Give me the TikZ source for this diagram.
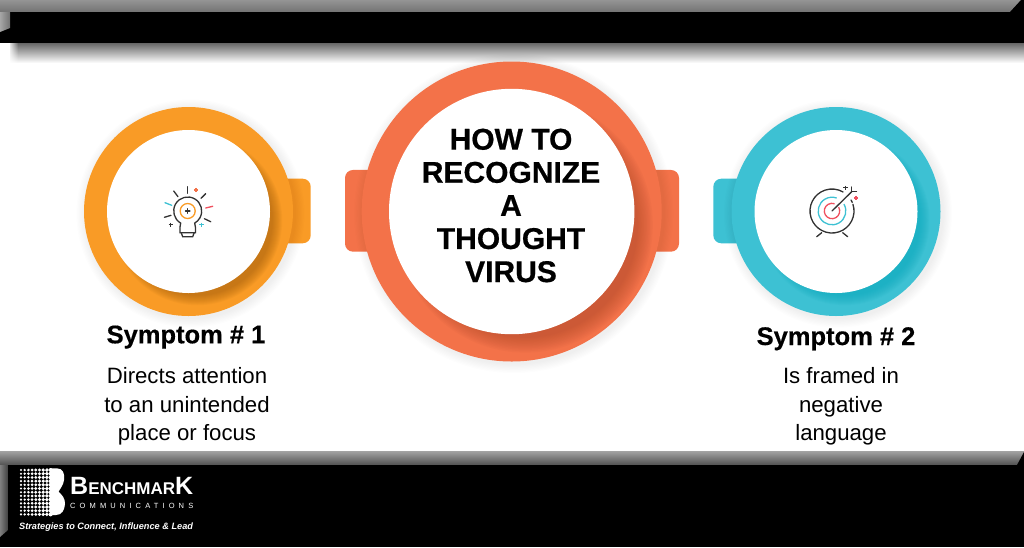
\documentclass[tikz,border=0pt]{standalone}
\usepackage{fontspec}
\setmainfont{Liberation Sans}
\usetikzlibrary{fadings}
\definecolor{ringorange}{RGB}{249,155,38}
\definecolor{ringcoral}{RGB}{243,114,73}
\definecolor{ringteal}{RGB}{61,193,211}
\definecolor{shadeorange}{RGB}{150,85,10}
\definecolor{shadecoral}{RGB}{170,70,40}
\definecolor{shadeteal}{RGB}{0,165,185}
\definecolor{iconblack}{RGB}{50,50,50}
\definecolor{iconred}{RGB}{240,80,95}
\tikzset{
  disc/.style={circle, inner sep=0pt, minimum size=#1},
  tabbox/.style={rectangle, rounded corners=8pt, inner sep=0pt},
  iconline/.style={line width=1.3pt, line cap=round, iconblack},
  iconcross/.style={line width=1.1pt},
  heading/.style={font=\bfseries\fontsize{25.5}{30}\selectfont\addfontfeatures{FakeBold=0.4}},
  bodytext/.style={align=center, font=\fontsize{22.2}{28.4}\selectfont},
}
\begin{document}
\begin{tikzpicture}[x=1pt,y=-1pt]
  \useasboundingbox (0,0) rectangle (1024,547);
  \fill[white] (0,0) rectangle (1024,547);

  % Bands
  \shade[top color=black!42, middle color=black!32, bottom color=black!55] (0,0) rectangle (1024,12);
  \fill[black] (0,12) rectangle (1024,43);
  \fill[black] (1010,12) -- (1021,0) -- (1024,0) -- (1024,12) -- cycle;
  \shade[left color=black!35, right color=black!55] (0,12) -- (10,12) -- (10,28) -- (0,32) -- cycle;
  \shade[top color=black!60, middle color=black!48, bottom color=white] (10,43) rectangle (1024,63);
  \fill[white, path fading=east] (8,43) rectangle (18,64);
  \shade[top color=black!36, bottom color=black!68] (0,451) rectangle (1024,465);
  \fill[black] (0,465) rectangle (1024,547);
  \fill[black] (1017,465) -- (1024,452) -- (1024,465) -- cycle;
  \shade[left color=black!50, right color=black!75] (0,465) -- (8,465) -- (8,530) -- (0,537) -- cycle;

  % Rings
  \node[tabbox, fill=ringorange, minimum width=36pt, minimum height=64.6pt] (tableft) at (292.7,211) {};
  \node[tabbox, fill=ringcoral, minimum width=40pt, minimum height=81.7pt] (tabcentera) at (365,210.8) {};
  \node[tabbox, fill=ringcoral, minimum width=40pt, minimum height=81.7pt] (tabcenterb) at (659,210.8) {};
  \node[tabbox, fill=ringteal, minimum width=36pt, minimum height=64.6pt] (tabright) at (731.3,211) {};

  \foreach \ringname/\cx/\rout/\rin/\ringcol/\shadecol in {
      left/188.5/104.5/81.5/ringorange/shadeorange,
      center/511.7/150/122.7/ringcoral/shadecoral,
      right/836/104.5/81.5/ringteal/shadeteal} {
    \foreach \i in {1,...,8}
      \fill[black, opacity=0.008] (\cx+2,213.5) circle ({\rout+\i*1.2});
    \node[disc=2*\rout*1pt, fill=\ringcol] (\ringname outer) at (\cx,211.5) {};
    \begin{scope}
      \clip (\cx,211.5) circle (\rout);
      \foreach \i in {0,...,10}
        \fill[\shadecol, opacity=0.055] (\cx+\rin*0.11,211.5+\rin*0.11) circle ({\rin*(1.04-0.012*\i)});
    \end{scope}
    \node[disc=2*\rin*1pt, fill=white] (\ringname inner) at (\cx,211.5) {};
  }

  % Texts
  \node[align=center, font=\bfseries\fontsize{30}{33.1}\selectfont\addfontfeatures{FakeBold=0.6}] (title) at (511,205.5) {HOW TO\\RECOGNIZE\\A\\THOUGHT\\VIRUS};
  \node[heading, anchor=base] (symptoma) at (186,343.3) {Symptom \# 1};
  \node[heading, anchor=base] (symptomb) at (836,345) {Symptom \# 2};
  \node[bodytext] (bodya) at (187,406.5) {Directs attention\\to an unintended\\place or focus};
  \node[bodytext] (bodyb) at (841,406.5) {Is framed in\\negative\\language};

  % Lightbulb
  \begin{scope}[shift={(187.7,211)}]
    \draw[iconline] (-7.7,21.7) -- (-7.7,16) -- (-7,12.1) arc[start angle=120, end angle=420, radius=14] -- (7.7,16) -- (7.7,21.7) -- cycle;
    \draw[iconline] (-6.5,21.7) -- (-5,25.7) -- (5,25.7) -- (6.5,21.7);
    \draw[ringorange, line width=1.3pt] (0,0) circle (7.5);
    \draw[iconline] (0,-2.2) -- (0,2.2) (-2.2,0) -- (2.2,0);
    \draw[iconline] (0,-24.3) -- (0,-17.7);
    \draw[iconline] (-14,-20) -- (-9.7,-14.3);
    \draw[iconline] (18,-17.3) -- (13.3,-12.7);
    \draw[iconline] (-23.3,6.3) -- (-16.7,4.3);
    \draw[iconline] (16.7,7.7) -- (23,10.7);
    \draw[iconline, ringteal] (-22.7,-8.3) -- (-16,-5.7);
    \draw[iconline, iconred] (18,-3) -- (25,-4.7);
    \draw[iconcross, ringcoral] (8.3,-23.2) -- (8.3,-18.8) (6.1,-21) -- (10.5,-21);
    \draw[iconcross, iconblack] (-17,11.5) -- (-17,15.9) (-19.2,13.7) -- (-14.8,13.7);
    \draw[iconcross, ringteal] (13.7,11.5) -- (13.7,15.9) (11.5,13.7) -- (15.9,13.7);
  \end{scope}

  % Target
  \begin{scope}[shift={(832,211)}]
    \draw[iconline] (22*0.951,-22*0.309) arc[start angle=-18, end angle=300, radius=22];
    \draw[iconline] (22*0.866,-22*0.5) arc[start angle=-30, end angle=-23, radius=22];
    \draw[ringteal, line width=1.3pt] (13.8*0.866,-13.8*0.5) arc[start angle=-30, end angle=290, radius=13.8];
    \draw[iconred, line width=1.3pt] (7.7*0.866,-7.7*0.5) arc[start angle=-30, end angle=290, radius=7.7];
    \draw[iconline] (0,0) -- (19.7,-19.3);
    \draw[iconline] (19.7,-24) -- (19.7,-19.3) -- (24.5,-19.3);
    \draw[iconline] (-10.3,21.7) -- (-15.3,25.7);
    \draw[iconline] (10.7,21.7) -- (15.7,25.7);
    \draw[iconcross, iconblack] (13.3,-25.5) -- (13.3,-21.1) (11.1,-23.3) -- (15.5,-23.3);
    \draw[iconcross, iconred] (24,-15.2) -- (24,-10.8) (21.8,-13) -- (26.2,-13);
  \end{scope}

  % Logo
  \foreach \col in {0,...,8}
    \foreach \row in {0,...,12}
      \fill[white] (21+\col*3.7,470+\row*3.7) circle ({1.2+\col*0.1});
  \fill[white] (50,468.3) -- (57,468.3) .. controls (63,468.3) and (65,474) .. (64,480) .. controls (63.5,485) and (60,489) .. (58.5,491.7) .. controls (61,494) and (65.5,498) .. (65,504) .. controls (64.5,510) and (62,515) .. (56,515) -- (50,515) -- cycle;
  \node[anchor=base west, inner sep=0pt, white, font=\bfseries\fontsize{17}{18}\selectfont] (brand) at (70,494) {{\fontsize{25}{26}\selectfont B}ENCHMAR{\fontsize{25}{26}\selectfont K}};
  \node[anchor=base west, inner sep=0pt, white, font=\fontsize{7.5}{9}\selectfont\addfontfeatures{LetterSpace=55}] (brandsub) at (70,508) {COMMUNICATIONS};
  \node[anchor=base west, inner sep=0pt, white, font=\bfseries\itshape\fontsize{9.2}{10}\selectfont] (tagline) at (19,529) {Strategies to Connect, Influence \& Lead};
\end{tikzpicture}
\end{document}
